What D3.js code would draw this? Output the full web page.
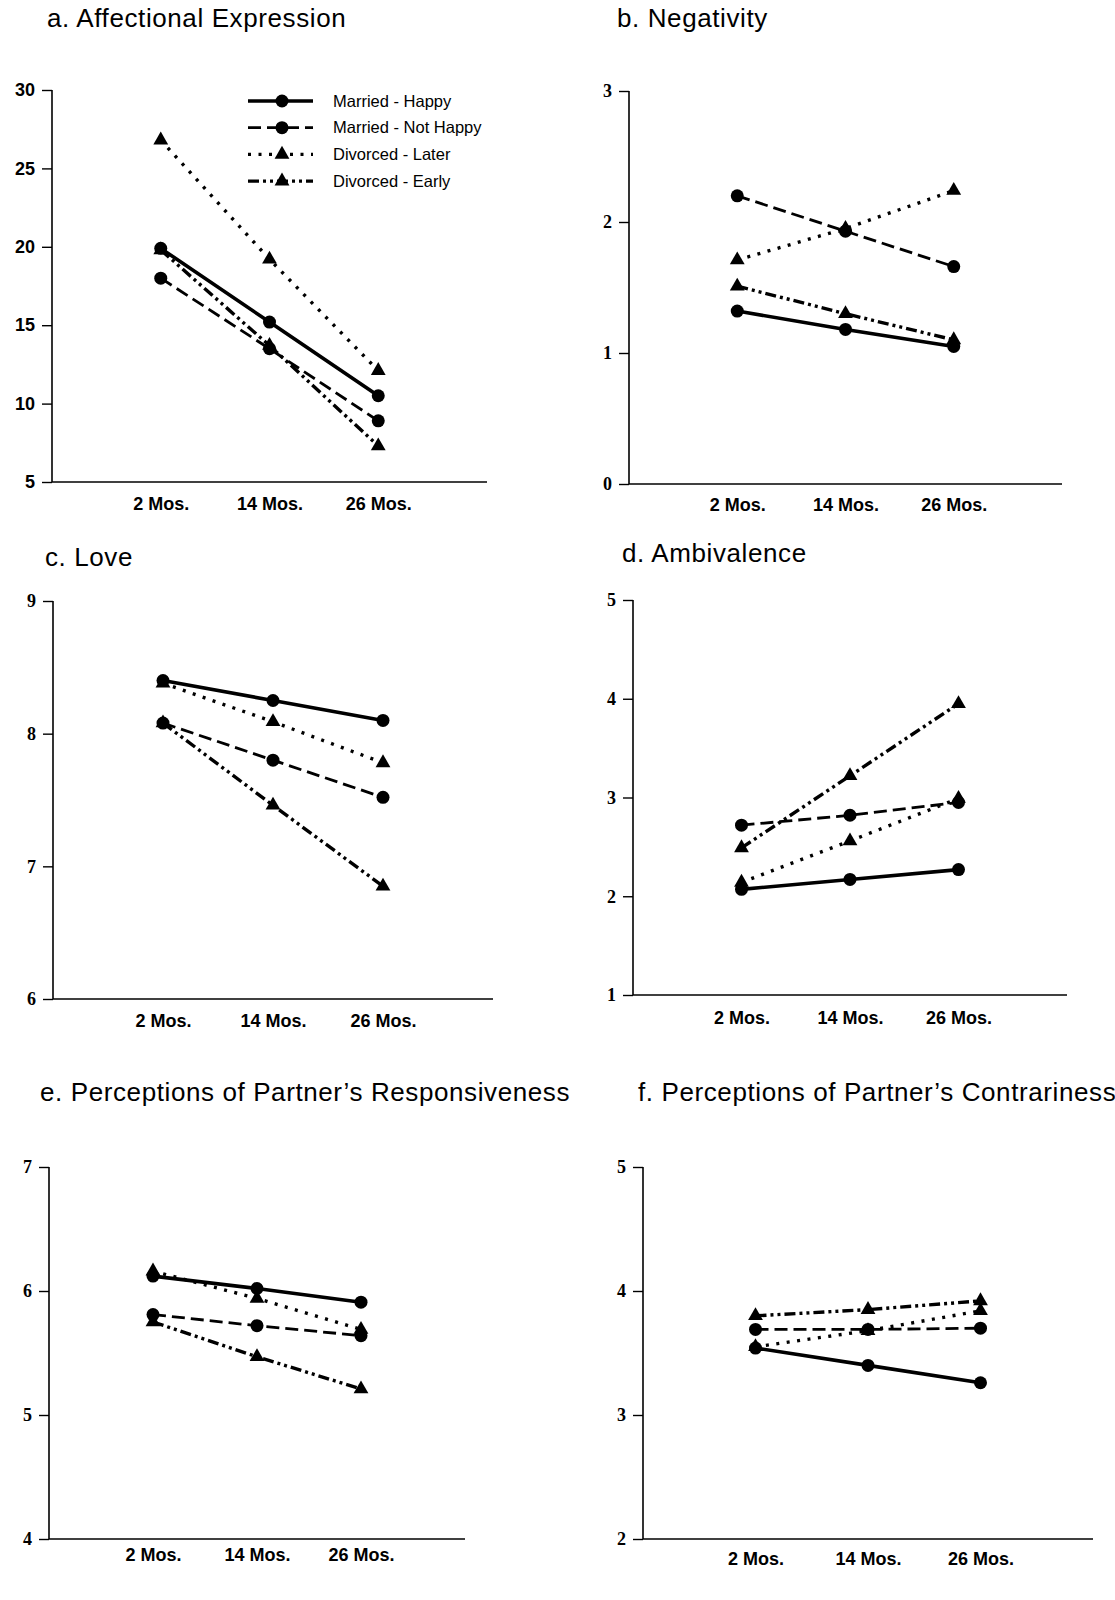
<!DOCTYPE html>
<html>
<head>
<meta charset="utf-8">
<script src="https://cdn.jsdelivr.net/npm/d3@7"></script>
<style>
  body { margin: 0; background: #fff; }
  svg { display: block; }
</style>
</head>
<body>
<div id="chart"></div>
<script>
// Data
const months = ["2 Mos.", "14 Mos.", "26 Mos."];
const groups = ["Married - Happy", "Married - Not Happy", "Divorced - Later", "Divorced - Early"];

// one row per group, in the order above
const affection = [[19.9, 15.2, 10.5], [18.0, 13.5, 8.9], [26.8, 19.2, 12.1], [19.8, 13.7, 7.3]];
const negativity = [[1.32, 1.18, 1.05], [2.20, 1.93, 1.66], [1.71, 1.95, 2.24], [1.51, 1.30, 1.10]];
const love = [[8.40, 8.25, 8.10], [8.08, 7.80, 7.52], [8.38, 8.09, 7.78], [8.08, 7.46, 6.85]];
const ambivalence = [[2.07, 2.17, 2.27], [2.72, 2.82, 2.95], [2.14, 2.56, 2.99], [2.49, 3.22, 3.95]];
const responsiveness = [[6.12, 6.02, 5.91], [5.81, 5.72, 5.64], [6.16, 5.94, 5.69], [5.75, 5.47, 5.21]];
const contrariness = [[3.54, 3.40, 3.26], [3.69, 3.69, 3.70], [3.55, 3.68, 3.84], [3.80, 3.85, 3.92]];

const affectionTicks = [5, 10, 15, 20, 25, 30];
const negativityTicks = [0, 1, 2, 3];
const loveTicks = [6, 7, 8, 9];
const ambivalenceTicks = [1, 2, 3, 4, 5];
const responsivenessTicks = [4, 5, 6, 7];
const contrarinessTicks = [2, 3, 4, 5];

// line look for each group
const styles = [
    { dash: null, width: 3.6, marker: "circle" },
    { dash: "13,6", width: 2.8, marker: "circle" },
    { dash: "3,7.5", width: 3.4, marker: "triangle" },
    { dash: "11,4,3,4,3,4", width: 3.4, marker: "triangle" }
];

// panel placement
const panels = [
    { title: "a. Affectional Expression", values: affection, ticks: affectionTicks,
      x0: 52, x1: 487, top: 90, bottom: 482, tx: 47, ty: 27, labelOff: 21, tickFont: "sans", legend: true },
    { title: "b. Negativity", values: negativity, ticks: negativityTicks,
      x0: 629, x1: 1062, top: 91, bottom: 484, tx: 617, ty: 27, labelOff: 20, tickFont: "serif" },
    { title: "c. Love", values: love, ticks: loveTicks,
      x0: 53, x1: 493, top: 601, bottom: 999, tx: 45, ty: 566, labelOff: 21, tickFont: "serif" },
    { title: "d. Ambivalence", values: ambivalence, ticks: ambivalenceTicks,
      x0: 633, x1: 1067, top: 600, bottom: 995, tx: 622, ty: 562, labelOff: 22, tickFont: "serif" },
    { title: "e. Perceptions of Partner\u2019s Responsiveness", values: responsiveness, ticks: responsivenessTicks,
      x0: 49, x1: 465, top: 1167, bottom: 1539, tx: 40, ty: 1101, labelOff: 15, tickFont: "serif" },
    { title: "f. Perceptions of Partner\u2019s Contrariness", values: contrariness, ticks: contrarinessTicks,
      x0: 643, x1: 1093, top: 1167, bottom: 1539, tx: 638, ty: 1101, labelOff: 19, tickFont: "serif" }
];

const svg = d3.select("#chart")
    .append("svg")
    .attr("width", 1115)
    .attr("height", 1600);

const sansFont = "'Liberation Sans', Arial, Helvetica, sans-serif";
const serifFont = "'Liberation Serif', 'Times New Roman', serif";

function drawMarker(g, type, x, y) {
    if (type === "circle") {
        g.append("circle")
            .attr("cx", x)
            .attr("cy", y)
            .attr("r", 6.5)
            .attr("fill", "#000");
    } else {
        g.append("path")
            .attr("d", d3.symbol(d3.symbolTriangle, 95)())
            .attr("transform", "translate(" + x + "," + y + ")")
            .attr("fill", "#000");
    }
}

panels.forEach(p => {
    const g = svg.append("g");

    const xScale = d3.scalePoint()
        .domain(months)
        .range([p.x0, p.x1])
        .padding(1);

    const yScale = d3.scaleLinear()
        .domain(d3.extent(p.ticks))
        .range([p.bottom, p.top]);

    // Title
    g.append("text")
        .attr("x", p.tx)
        .attr("y", p.ty)
        .style("font-family", sansFont)
        .style("font-size", "26px")
        .style("letter-spacing", "0.6px")
        .text(p.title);

    // Y axis
    const yAxis = g.append("g")
        .attr("transform", "translate(" + p.x0 + ",0)")
        .call(d3.axisLeft(yScale).tickValues(p.ticks).tickFormat(d3.format("d")).tickSize(10).tickPadding(7));
    yAxis.select(".domain").attr("d", "M0," + p.top + "V" + p.bottom).attr("stroke-width", 1.6);
    yAxis.selectAll(".tick line").attr("stroke-width", 1.4);
    yAxis.selectAll("text")
        .style("font-family", p.tickFont === "sans" ? sansFont : serifFont)
        .style("font-weight", "bold")
        .style("font-size", "18px")
        .attr("fill", "#000");

    // X axis (base line only, labels under the points)
    const xAxis = g.append("g")
        .attr("transform", "translate(0," + p.bottom + ")")
        .call(d3.axisBottom(xScale).tickSize(0).tickPadding(p.labelOff - 6));
    xAxis.select(".domain").attr("d", "M" + p.x0 + ",0H" + p.x1).attr("stroke-width", 1.6);
    xAxis.selectAll("text")
        .style("font-family", sansFont)
        .style("font-weight", "bold")
        .style("font-size", "18px")
        .attr("fill", "#000");

    // Lines, drawn back to front
    const line = d3.line()
        .x((d, i) => xScale(months[i]))
        .y(d => yScale(d));

    [3, 2, 1, 0].forEach(k => {
        const s = styles[k];
        g.append("path")
            .datum(p.values[k])
            .attr("d", line)
            .attr("fill", "none")
            .attr("stroke", "#000")
            .attr("stroke-width", s.width)
            .attr("stroke-dasharray", s.dash);
    });

    [3, 2, 1, 0].forEach(k => {
        p.values[k].forEach((v, i) => drawMarker(g, styles[k].marker, xScale(months[i]), yScale(v)));
    });

    // Legend
    if (p.legend) {
        const lg = g.append("g");
        groups.forEach((name, k) => {
            const y = 101 + k * 26.7;
            const s = styles[k];
            lg.append("line")
                .attr("x1", 248).attr("x2", 313)
                .attr("y1", y).attr("y2", y)
                .attr("stroke", "#000")
                .attr("stroke-width", s.width)
                .attr("stroke-dasharray", s.dash);
            drawMarker(lg, s.marker, 282, y);
            lg.append("text")
                .attr("x", 333)
                .attr("y", y + 5.5)
                .style("font-family", sansFont)
                .style("font-size", "16.5px")
                .text(name);
        });
    }
});
</script>
</body>
</html>
